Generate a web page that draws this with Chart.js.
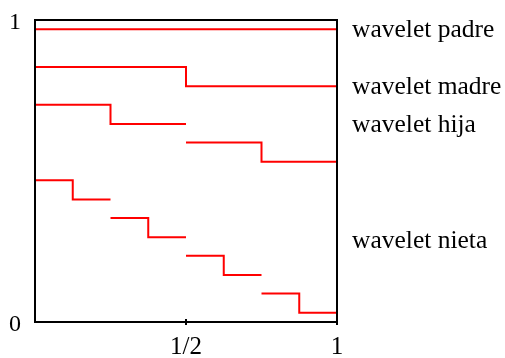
<!DOCTYPE html>
<html lang="es">
<head>
    <meta charset="UTF-8">
    <title>Wavelets de Haar</title>
    <script src="https://cdn.jsdelivr.net/npm/chart.js"></script>
    <style>
        body, html {
            margin: 0;
            padding: 0;
            background: #fff;
        }
    </style>
</head>
<body>
    <canvas id="waveletChart" width="505" height="358"></canvas>

    <script>
        // datos (x = punto de quiebre, y = nivel)
        const padreX = [0, 1];
        const padreY = [0.969, 0.969];
        const madreX = [0, 0.5, 1];
        const madreY = [0.844, 0.781, 0.781];
        const hijaX = [[0, 0.25, 0.5], [0.5, 0.75, 1]];
        const hijaY = [[0.719, 0.656, 0.656], [0.594, 0.531, 0.531]];
        const nietaX = [[0, 0.125, 0.25], [0.25, 0.375, 0.5], [0.5, 0.625, 0.75], [0.75, 0.875, 1]];
        const nietaY = [[0.469, 0.406, 0.406], [0.344, 0.281, 0.281], [0.219, 0.156, 0.156], [0.094, 0.031, 0.031]];

        const nombres = ['wavelet padre', 'wavelet madre', 'wavelet hija', 'wavelet nieta'];
        const nombresY = [0.969, 0.781, 0.656, 0.27];

        const xTicks = [0.5, 1];
        const xTickLabels = ['1/2', '1'];
        const yTicks = [0, 1];
        const yTickLabels = ['0', '1'];

        const FONT = { family: "'Liberation Serif', serif", size: 24 };

        const piezas = [[padreX, padreY], [madreX, madreY]];
        hijaX.forEach((xs, i) => piezas.push([xs, hijaY[i]]));
        nietaX.forEach((xs, i) => piezas.push([xs, nietaY[i]]));

        const datasets = piezas.map(([xs, ys]) => ({
            data: xs.map((x, i) => ({ x: x, y: ys[i] })),
            showLine: true,
            stepped: 'before',
            borderColor: '#ff0000',
            borderWidth: 2,
            pointRadius: 0,
            fill: false
        }));

        // caja negra, marca en 1/2 y nombres a la derecha
        const marcoPlugin = {
            id: 'marco',
            afterDatasetsDraw(chart) {
                const { ctx, chartArea: a, scales } = chart;
                ctx.save();
                ctx.strokeStyle = '#000';
                ctx.lineWidth = 2;
                ctx.strokeRect(a.left, a.top, a.right - a.left, a.bottom - a.top);
                ctx.beginPath();
                xTicks.forEach(v => {
                    const px = Math.round(scales.x.getPixelForValue(v));
                    ctx.moveTo(px, a.bottom - 3);
                    ctx.lineTo(px, a.bottom + 3);
                });
                ctx.stroke();

                ctx.fillStyle = '#000';
                ctx.font = '25.5px ' + FONT.family;
                ctx.textAlign = 'left';
                ctx.textBaseline = 'alphabetic';
                nombres.forEach((t, i) => {
                    const py = scales.y.getPixelForValue(nombresY[i]);
                    ctx.fillText(t, a.right + 15, py + 8);
                });
                ctx.restore();
            }
        };

        new Chart(document.getElementById('waveletChart'), {
            type: 'scatter',
            data: { datasets: datasets },
            options: {
                responsive: false,
                animation: false,
                layout: { padding: { top: 20, right: 168, left: 0, bottom: 0 } },
                plugins: {
                    legend: { display: false },
                    tooltip: { enabled: false }
                },
                scales: {
                    x: {
                        type: 'linear',
                        min: 0,
                        max: 1,
                        border: { display: false },
                        grid: { display: false, drawTicks: false },
                        afterBuildTicks: s => { s.ticks = xTicks.map(v => ({ value: v })); },
                        afterFit: s => { s.height = 36; s.paddingLeft = 0; s.paddingRight = 0; },
                        ticks: {
                            color: '#000',
                            font: { family: FONT.family, size: 25 },
                            padding: 10,
                            maxRotation: 0,
                            callback: (v) => xTickLabels[xTicks.indexOf(v)]
                        }
                    },
                    y: {
                        type: 'linear',
                        min: 0,
                        max: 1,
                        border: { display: false },
                        grid: { display: false, drawTicks: false },
                        afterBuildTicks: s => { s.ticks = yTicks.map(v => ({ value: v })); },
                        afterFit: s => { s.width = 35; s.paddingTop = 0; s.paddingBottom = 0; },
                        ticks: {
                            color: '#000',
                            font: FONT,
                            padding: 14,
                            labelOffset: 3,
                            callback: (v) => yTickLabels[yTicks.indexOf(v)]
                        }
                    }
                }
            },
            plugins: [marcoPlugin]
        });
    </script>
</body>
</html>
